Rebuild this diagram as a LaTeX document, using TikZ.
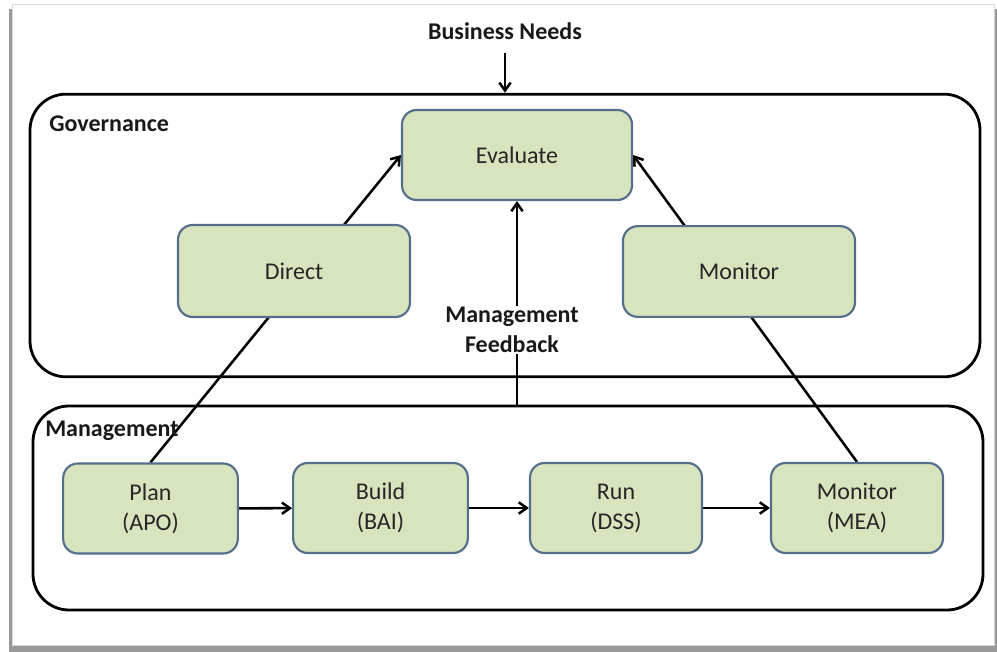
\documentclass[tikz,border=0pt]{standalone}
\usepackage{fontspec}
\setmainfont{Carlito}
\usetikzlibrary{arrows.meta}

\definecolor{stagefill}{RGB}{215,228,189}
\definecolor{stageline}{RGB}{84,110,140}

\pgfdeclarelayer{back}
\pgfdeclarelayer{wires}
\pgfsetlayers{back,wires,main}

\tikzset{
  stage/.style={draw=stageline, line width=1.6pt, fill=stagefill, rounded corners=11pt,
    minimum width=131pt, minimum height=67.5pt, inner sep=0pt, align=center,
    font=\fontsize{18}{22.5}\selectfont, text=black!85},
  area/.style={draw=black, line width=2.1pt, rounded corners=27pt,
    minimum width=712.5pt, inner sep=0pt},
  tag/.style={font=\fontsize{18}{22.5}\selectfont\bfseries, text=black!90, inner sep=0.75pt},
  flow/.style={line width=1.9pt, -{Straight Barb[length=6pt,width=8.5pt]}},
}

\begin{document}
\begin{tikzpicture}[x=0.75pt,y=0.75pt,yscale=-1,xscale=1]
\useasboundingbox (0,0) rectangle (997,652);

% page with its shadow
\begin{pgfonlayer}{back}
\fill[black!40] (9,9) rectangle (997,652);
\fill[white] (12,5) rectangle (994,645);
\draw[black!15, line width=0.75pt] (12,5) rectangle (994,645);
\end{pgfonlayer}

% the two areas
\node[area, minimum height=212pt] (gov) at (505,235.5) {};
\node[area, minimum height=153pt] (mgmt) at (508,508) {};

% governance boxes
\node[stage, minimum width=172.5pt] (eval) at (517,155) {Evaluate};
\node[stage, minimum width=174pt, minimum height=69pt] (direct) at (294,271) {Direct};
\node[stage, minimum width=174pt, minimum height=68pt] (watch) at (739,271.5) {Monitor};

% management boxes
\node[stage] (plan) at (150.5,508.5) {Plan\\(APO)};
\node[stage] (build) at (380.5,508) {Build\\(BAI)};
\node[stage, minimum width=129pt] (run) at (616,508) {Run\\(DSS)};
\node[stage, minimum width=129pt] (mea) at (857,508) {Monitor\\(MEA)};

% labels
\node[tag] (needs) at (505,31) {Business Needs};
\node[tag, anchor=west] (govtag) at (48,124) {Governance};
\node[tag, anchor=west] (mgmttag) at (44,431) {Management};
\node[tag, align=center, fill=white] (feedback) at (512,330) {Management\\Feedback};

% connectors
\begin{pgfonlayer}{wires}
\draw[flow] ([yshift=9pt]needs.south) -- (gov.north);
\draw[flow] (plan.north) -- (eval.west);
\draw[flow] (mea.north) -- (eval.east);
\draw[flow] (eval.south |- mgmt.north) -- (eval.south);
\draw[flow] (plan) -- (build);
\draw[flow] (build) -- (run);
\draw[flow] (run) -- (mea);
\end{pgfonlayer}

\end{tikzpicture}
\end{document}
